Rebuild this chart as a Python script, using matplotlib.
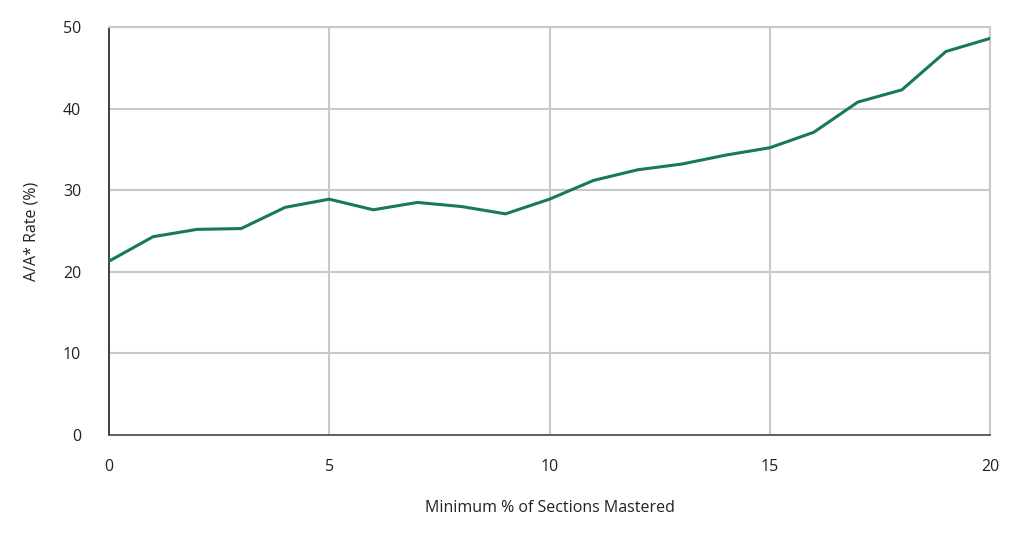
import matplotlib
matplotlib.use("Agg")
import matplotlib.pyplot as plt

plt.rcParams['font.family'] = ['Open Sans', 'DejaVu Sans']

min_pct_mastered = list(range(0, 21))
aa_rate = [21.3, 24.3, 25.2, 25.3, 27.9, 28.9, 27.6, 28.5, 28.0, 27.1,
           28.9, 31.2, 32.5, 33.2, 34.3, 35.2, 37.1, 40.8, 42.3, 47.0, 48.6]
x_ticks = [0, 5, 10, 15, 20]
y_ticks = [0, 10, 20, 30, 40, 50]

fig = plt.figure(figsize=(10.26, 5.37), dpi=100)
ax = fig.add_axes([109/1026, 1-435/537, (990-109)/1026, (435-27)/537])

ax.plot(min_pct_mastered, aa_rate, color='#177a52', linewidth=2.2, zorder=3,
        solid_joinstyle='miter')

ax.set_xlim(0, 20)
ax.set_ylim(0, 50)
ax.set_xticks(x_ticks)
ax.set_yticks(y_ticks)
ax.grid(True, color='#c9c9c9', linewidth=1.5, zorder=0)
ax.set_axisbelow(True)

for s in ['top', 'right']:
    ax.spines[s].set_color('#c9c9c9')
    ax.spines[s].set_linewidth(1.5)
ax.spines['left'].set_color('#333333')
ax.spines['left'].set_linewidth(1.3)
ax.spines['bottom'].set_color('#555555')
ax.spines['bottom'].set_linewidth(1.3)

ax.tick_params(axis='both', length=0, labelsize=11.5, colors='#222222')
ax.tick_params(axis='y', pad=20)
ax.tick_params(axis='x', pad=17)

ax.set_xlabel('Minimum % of Sections Mastered', fontsize=11.5, color='#222222', labelpad=18)
ax.set_ylabel('A/A* Rate (%)', fontsize=11.5, color='#222222', labelpad=17)

fig.savefig('out.png', dpi=100, facecolor='white')
